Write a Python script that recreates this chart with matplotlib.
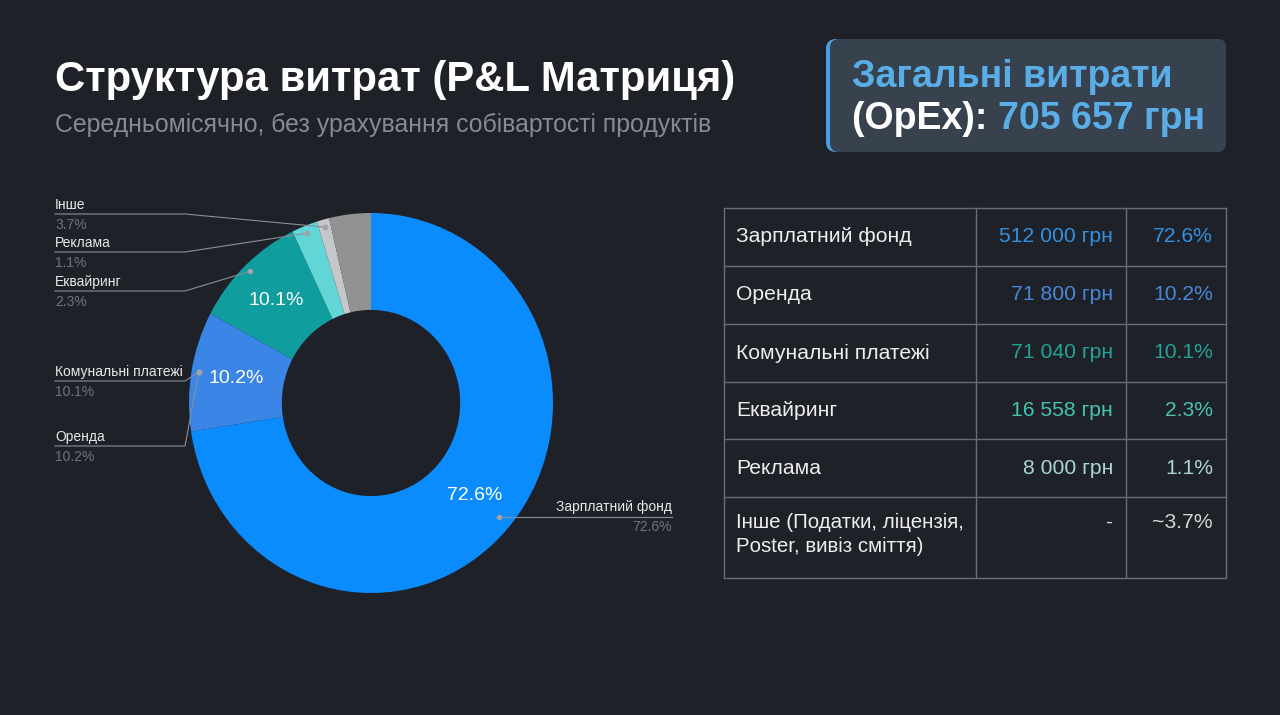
import numpy as np
import matplotlib.pyplot as plt
from matplotlib.patches import FancyBboxPatch

# ---- data ----
categories = ["Зарплатний фонд", "Оренда", "Комунальні платежі", "Еквайринг", "Реклама", "Інше"]
shares = [72.6, 10.2, 10.1, 2.3, 1.1, 3.7]
amounts = ["512 000 грн", "71 800 грн", "71 040 грн", "16 558 грн", "8 000 грн", "-"]
share_text = ["72.6%", "10.2%", "10.1%", "2.3%", "1.1%", "~3.7%"]
table_names = ["Зарплатний фонд", "Оренда", "Комунальні платежі", "Еквайринг", "Реклама",
               "Інше (Податки, ліцензія,\nPoster, вивіз сміття)"]
total_text = "705 657 грн"

slice_colors = ["#0a8cff", "#3a85e6", "#0f9d9d", "#62d5d6", "#c5c7ca", "#929292"]
table_colors = ["#3190e0", "#4a86d8", "#22a397", "#45c2b0", "#a9d7cf", "#d6d6d6"]
# slice that each outer label's leader line points at (kept as in the original slide)
label_target = [0, 1, 1, 2, 3, 4]

BG = "#1e2228"
W, H = 1280, 715
plt.rcParams["font.family"] = ["Liberation Sans", "DejaVu Sans"]

fig = plt.figure(figsize=(12.8, 7.15), dpi=100, facecolor=BG)
bg = fig.add_axes([0, 0, 1, 1])
bg.set_xlim(0, W)
bg.set_ylim(H, 0)
bg.axis("off")
bg.patch.set_visible(False)
bg.set_zorder(2)

# title block
bg.text(55, 80, "Структура витрат (P&L Матриця)", color="white", fontsize=30.2,
        fontweight="bold", va="center", ha="left")
bg.text(55, 125, "Середньомісячно, без урахування собівартості продуктів", color="#858a93",
        fontsize=17.9, va="center", ha="left")

# OpEx box
bg.add_patch(FancyBboxPatch((826, 39), 400, 113, boxstyle="round,pad=0,rounding_size=10",
                            fc="#4a9fe3", ec="none"))
bg.add_patch(FancyBboxPatch((830, 39), 396, 113, boxstyle="round,pad=0,rounding_size=9",
                            fc="#38414e", ec="none"))
bg.text(852, 77, "Загальні витрати", color="#5aaee8", fontsize=27, fontweight="bold",
        va="center")
t1 = bg.text(852, 119, "(OpEx): ", color="white", fontsize=27, fontweight="bold",
             va="center")
r = fig.canvas.get_renderer()
ext = t1.get_window_extent(renderer=r)
bg.text(852 + ext.width, 119, total_text, color="#5aaee8", fontsize=27, fontweight="bold",
        va="center")

# ---- donut ----
cx, cy, rx, ry = 371, 403, 182, 190
ax = fig.add_axes([(cx - rx) / W, (H - cy - ry) / H, 2 * rx / W, 2 * ry / H])
ax.set_zorder(1)
wedges, _, autotexts = ax.pie(shares, colors=slice_colors, startangle=90, counterclock=False,
                              radius=1, wedgeprops=dict(width=0.51, edgecolor="none"),
                              autopct=lambda p: f"{p:.1f}%" if p > 5 else "",
                              pctdistance=0.75, textprops=dict(color="white", fontsize=14))
ax.set_xlim(-1, 1)
ax.set_ylim(-1, 1)
ax.set_aspect("auto")
ax.axis("off")


def anchor(i, rr=0.96):
    mid = np.deg2rad((wedges[i].theta1 + wedges[i].theta2) / 2)
    return cx + rx * rr * np.cos(mid), cy - ry * rr * np.sin(mid)


# outer labels: left column
left_y = {5: 205, 4: 243, 3: 282, 2: 372, 1: 437}
for i, ty in left_y.items():
    ax_x, ax_y = anchor(label_target[i])
    ly = ty + 9
    bg.plot([55, 185, ax_x], [ly, ly, ax_y], color="#8a8f96", lw=0.8)
    bg.plot(ax_x, ax_y, "o", ms=3, color="#a0a5ab")
    bg.text(55, ty, categories[i], color="#e8e8e8", fontsize=10, va="center")
    bg.text(55, ty + 20, f"{shares[i]}%", color="#6f747c", fontsize=10, va="center")

# outer label: right side
ax_x, ax_y = anchor(label_target[0], 0.93)
bg.plot([ax_x, 672], [517, 517], color="#8a8f96", lw=0.8)
bg.plot(ax_x, 517, "o", ms=3, color="#a0a5ab")
bg.text(672, 507, categories[0], color="#e8e8e8", fontsize=10, va="center", ha="right")
bg.text(672, 527, f"{shares[0]}%", color="#6f747c", fontsize=10, va="center", ha="right")

# ---- table ----
row_y = [208, 266, 324, 382, 439, 497, 578]
col_x = [724, 976, 1126, 1226]
grid = "#686d75"
for y in row_y:
    bg.plot([col_x[0], col_x[-1]], [y, y], color=grid, lw=1)
for x in col_x:
    bg.plot([x, x], [row_y[0], row_y[-1]], color=grid, lw=1)

for i in range(len(table_names)):
    top, bot = row_y[i], row_y[i + 1]
    if "\n" in table_names[i]:
        yy, va = top + 16, "top"
        bg.text(736, yy, table_names[i], color="#eeeeee", fontsize=14.8, va=va,
                linespacing=1.35)
    else:
        yy, va = (top + bot) / 2, "center"
        bg.text(736, yy, table_names[i], color="#eeeeee", fontsize=15.2, va=va)
    bg.text(1113, yy, amounts[i], color=table_colors[i], fontsize=15.2, va=va, ha="right")
    bg.text(1213, yy, share_text[i], color=table_colors[i], fontsize=15.2, va=va, ha="right")

fig.savefig("out.png", dpi=100, facecolor=BG)
